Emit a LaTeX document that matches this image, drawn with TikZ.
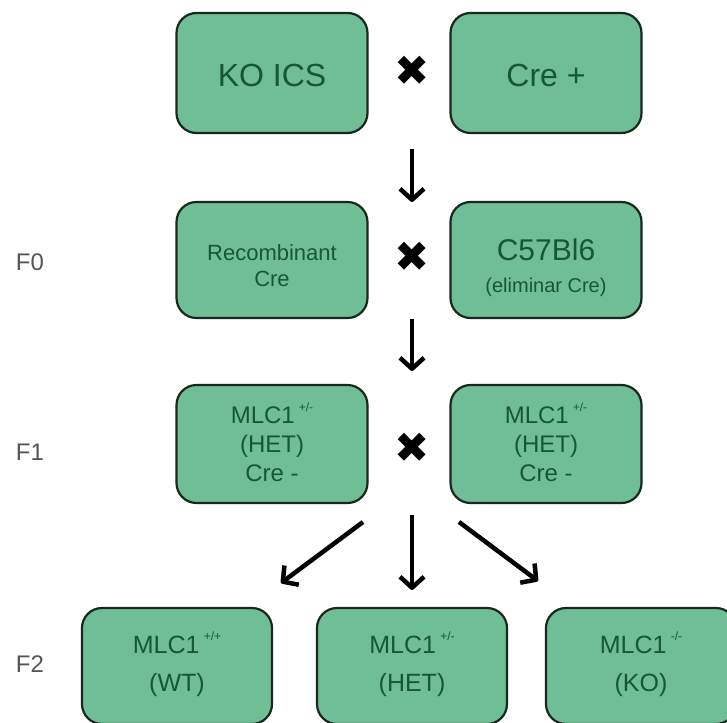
\documentclass[tikz,border=0pt]{standalone}
\usepackage{fontspec}
\setmainfont{Liberation Sans}
\newfontfamily\symfont{DejaVu Sans}
\usetikzlibrary{arrows.meta}
\definecolor{boxgreen}{RGB}{112,190,150}
\definecolor{txtgreen}{RGB}{22,88,50}
\definecolor{rimdark}{RGB}{25,40,30}
\definecolor{labelgray}{RGB}{85,85,85}
\newcommand{\geno}[1]{\,\smash{\raisebox{0.5em}{\fontsize{12}{12}\selectfont #1}}}

\begin{document}
\begin{tikzpicture}[x=1pt,y=-1pt,
    mbox/.style={draw=rimdark, line width=2.2pt, fill=boxgreen, rounded corners=20pt,
      minimum width=191pt, minimum height=118pt, inner sep=0pt, align=center, text=txtgreen},
    cross/.style={font=\symfont\fontsize{42}{42}\selectfont, inner sep=0pt},
    gen/.style={font=\fontsize{24}{30}\selectfont, text=labelgray, inner sep=0pt},
    down/.style={line width=4.5pt, line join=round, -{Straight Barb[length=11pt,width=24pt,line join=round]}}]
    \useasboundingbox (0,0) rectangle (727,722);
    % Define nodes
    \node (A) at (272,73) [mbox, minimum height=120pt, font=\fontsize{32}{38}\selectfont] {\rule{0pt}{27pt}KO ICS};
    \node (B) at (546,73) [mbox, minimum height=120pt, font=\fontsize{32}{38}\selectfont] {\rule{0pt}{27pt}Cre +};
    \node (C) at (272,260) [mbox, minimum height=116pt, font=\fontsize{22}{26}\selectfont] {\rule{0pt}{28pt}Recombinant\\Cre};
    \node (D) at (546,260) [mbox, minimum height=116pt, font=\fontsize{30}{36}\selectfont] {\rule{0pt}{37pt}C57Bl6\\[-4pt]{\fontsize{20}{24}\selectfont (eliminar Cre)}};
    \node (E) at (272,444) [mbox, font=\fontsize{24}{29}\selectfont] {MLC1\geno{+/-}\\(HET)\\Cre -};
    \node (F) at (546,444) [mbox, font=\fontsize{24}{29}\selectfont] {MLC1\geno{+/-}\\(HET)\\Cre -};
    \node (G) at (177,666) [mbox, minimum width=190pt, minimum height=116pt, font=\fontsize{25}{38}\selectfont] {MLC1\geno{+/+}\\(WT)};
    \node (H) at (412,666) [mbox, minimum width=190pt, minimum height=116pt, font=\fontsize{25}{38}\selectfont] {MLC1\geno{+/-}\\(HET)};
    \node (I) at (641,666) [mbox, minimum width=190pt, minimum height=116pt, font=\fontsize{25}{38}\selectfont] {MLC1\geno{-/-}\\(KO)};

    % crosses and generations
    \node (x1) at (412,71) [cross] {✖};
    \node (x2) at (412,257) [cross] {✖};
    \node (x3) at (412,448) [cross] {✖};
    \node (f0) at (30,262) [gen] {F0};
    \node (f1) at (30,452) [gen] {F1};
    \node (f2) at (30,664) [gen] {F2};

    % arrow ends
    \coordinate (a1) at (412,149);
    \coordinate (b1) at (412,202);
    \coordinate (a2) at (412,319);
    \coordinate (b2) at (412,371);
    \coordinate (a3) at (363,522);
    \coordinate (b3) at (281,583);
    \coordinate (a4) at (412,515);
    \coordinate (b4) at (412,590);
    \coordinate (a5) at (459,522);
    \coordinate (b5) at (538,581);

    % Draw arrows
    \draw[down] (a1) -- (b1);
    \draw[down] (a2) -- (b2);
    \draw[down] (a3) -- (b3);
    \draw[down] (a4) -- (b4);
    \draw[down] (a5) -- (b5);
\end{tikzpicture}
\end{document}
